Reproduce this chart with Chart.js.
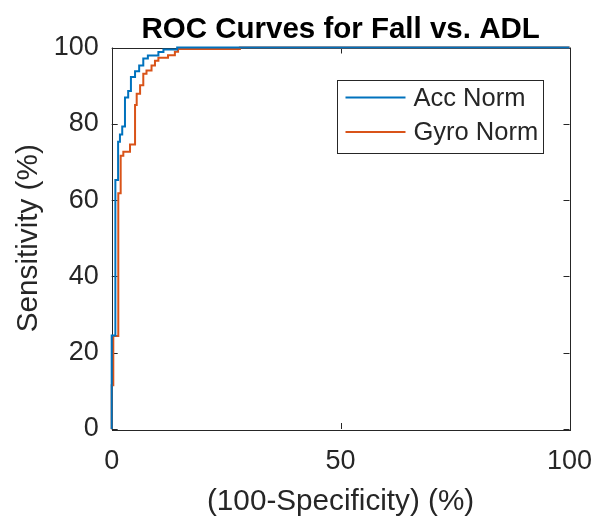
<!DOCTYPE html>
<html lang="en">
<head>
  <meta charset="UTF-8">
  <title>ROC Curves</title>
  <style>
    html, body { margin: 0; padding: 0; background: #fff; }
    #wrap { width: 597px; height: 521px; }
  </style>
</head>
<body>
  <div id="wrap"><canvas id="rocChart" width="597" height="521"></canvas></div>
  <script src="https://cdn.jsdelivr.net/npm/chart.js@4/dist/chart.umd.min.js"></script>
  <script>
    // ROC points (false positive rate %, true positive rate %) for each sensor norm
    const accFpr = [0, 0, 0.8, 0.8, 1.4, 1.4, 1.8, 1.8, 2.3, 2.3, 2.9, 2.9, 3.6, 3.6, 4.2, 4.2, 5.1, 5.1, 6.0, 6.0, 6.9, 6.9, 7.9, 7.9, 10.2, 10.2, 11.3, 11.3, 14.3, 14.3, 100];
    const accTpr = [0, 24.5, 24.5, 65.3, 65.3, 75.3, 75.3, 77.2, 77.2, 79.3, 79.3, 86.9, 86.9, 88.6, 88.6, 92.3, 92.3, 93.8, 93.8, 95.3, 95.3, 97.1, 97.1, 97.9, 97.9, 98.8, 98.8, 99.5, 99.5, 100, 100];

    const gyroFpr = [0, 0, 0.35, 0.35, 1.44, 1.44, 1.96, 1.96, 2.54, 2.54, 4.0, 4.0, 5.1, 5.1, 5.46, 5.46, 6.2, 6.2, 6.9, 6.9, 7.6, 7.6, 8.7, 8.7, 9.45, 9.45, 10.2, 10.2, 12.3, 12.3, 13.8, 13.8, 14.5, 14.5, 28, 28, 100];
    const gyroTpr = [0, 11.5, 11.5, 24.4, 24.4, 61.8, 61.8, 71.6, 71.6, 72.7, 72.7, 74.6, 74.6, 84.9, 84.9, 87.9, 87.9, 90.1, 90.1, 93.1, 93.1, 94.0, 94.0, 95.3, 95.3, 96.5, 96.5, 97.3, 97.3, 98.0, 98.0, 98.9, 98.9, 99.6, 99.6, 100, 100];

    const seriesNames = ['Acc Norm', 'Gyro Norm'];
    const seriesColors = ['#0072BD', '#D95319'];

    const xTickValues = [0, 50, 100];
    const yTickValues = [0, 20, 40, 60, 80, 100];

    const titleText = 'ROC Curves for Fall vs. ADL';

    const axisColor = '#262626';
    const fontFamily = '"Liberation Sans", Arial, Helvetica, sans-serif';

    function toPoints(xs, ys) {
      return xs.map((x, i) => ({ x: x, y: ys[i] }));
    }

    // box around the axes with short inward tick marks, drawn under the curves
    const axesBox = {
      id: 'axesBox',
      beforeDatasetsDraw(chart) {
        const { ctx, chartArea: a, scales } = chart;
        const len = 6;
        ctx.save();
        ctx.strokeStyle = axisColor;
        ctx.lineWidth = 1;
        ctx.strokeRect(Math.round(a.left) + 0.5, Math.round(a.top) + 0.5,
          Math.round(a.right - a.left), Math.round(a.bottom - a.top));
        ctx.beginPath();
        xTickValues.forEach(v => {
          const px = Math.round(scales.x.getPixelForValue(v)) + 0.5;
          ctx.moveTo(px, a.bottom); ctx.lineTo(px, a.bottom - len);
          ctx.moveTo(px, a.top); ctx.lineTo(px, a.top + len);
        });
        yTickValues.forEach(v => {
          const py = Math.round(scales.y.getPixelForValue(v)) + 0.5;
          ctx.moveTo(a.left, py); ctx.lineTo(a.left + len, py);
          ctx.moveTo(a.right, py); ctx.lineTo(a.right - len, py);
        });
        ctx.stroke();
        ctx.restore();
      }
    };

    // title centred over the plot area rather than the whole canvas
    const plotTitle = {
      id: 'plotTitle',
      afterDraw(chart) {
        const { ctx, chartArea: a } = chart;
        ctx.save();
        ctx.fillStyle = '#000';
        ctx.font = 'bold 29.5px ' + fontFamily;
        ctx.textAlign = 'center';
        ctx.textBaseline = 'middle';
        ctx.fillText(titleText, (a.left + a.right) / 2, a.top - 18);
        ctx.restore();
      }
    };

    // boxed legend in the upper right of the plot area
    const boxLegend = {
      id: 'boxLegend',
      afterDatasetsDraw(chart) {
        const { ctx, chartArea: a } = chart;
        const w = 206, h = 73;
        const left = Math.round(a.right - 27 - w) + 0.5;
        const top = Math.round(a.top + 32) + 0.5;
        ctx.save();
        ctx.fillStyle = '#fff';
        ctx.fillRect(left, top, w, h);
        ctx.strokeStyle = axisColor;
        ctx.lineWidth = 1;
        ctx.strokeRect(left, top, w, h);
        ctx.font = '25.5px ' + fontFamily;
        ctx.textBaseline = 'middle';
        chart.data.datasets.forEach((ds, i) => {
          const cy = top + 17 + i * 34.5;
          ctx.strokeStyle = ds.borderColor;
          ctx.lineWidth = 2;
          ctx.beginPath();
          ctx.moveTo(left + 8, cy);
          ctx.lineTo(left + 68, cy);
          ctx.stroke();
          ctx.fillStyle = axisColor;
          ctx.fillText(ds.label, left + 76, cy + 1);
        });
        ctx.restore();
      }
    };

    const ctx = document.getElementById('rocChart').getContext('2d');
    new Chart(ctx, {
      type: 'scatter',
      data: {
        datasets: [{
          label: seriesNames[0],
          data: toPoints(accFpr, accTpr),
          borderColor: seriesColors[0],
          backgroundColor: seriesColors[0],
          showLine: true,
          borderWidth: 2,
          pointRadius: 0,
          tension: 0
        }, {
          label: seriesNames[1],
          data: toPoints(gyroFpr, gyroTpr),
          borderColor: seriesColors[1],
          backgroundColor: seriesColors[1],
          showLine: true,
          borderWidth: 2,
          pointRadius: 0,
          tension: 0
        }]
      },
      options: {
        responsive: false,
        animation: false,
        devicePixelRatio: 1,
        clip: false,
        layout: { padding: { left: 11, right: 27.5, top: 47.5, bottom: 1 } },
        plugins: {
          legend: { display: false },
          tooltip: { enabled: false },
          title: { display: false }
        },
        scales: {
          x: {
            type: 'linear',
            min: 0,
            max: 100,
            afterBuildTicks: scale => { scale.ticks = xTickValues.map(v => ({ value: v })); },
            // fixed band under the plot; end labels may overhang the edges
            afterFit: scale => { scale.height = 91; scale.paddingLeft = 0; scale.paddingRight = 0; },
            grid: { display: false, drawTicks: false },
            border: { display: false },
            ticks: {
              color: axisColor,
              padding: 16,
              maxRotation: 0,
              font: { family: fontFamily, size: 27 }
            },
            title: {
              display: true,
              text: '(100-Specificity) (%)',
              color: axisColor,
              font: { family: fontFamily, size: 29.7 },
              padding: { top: 4, bottom: 0 }
            }
          },
          y: {
            type: 'linear',
            min: 0,
            max: 100,
            afterBuildTicks: scale => { scale.ticks = yTickValues.map(v => ({ value: v })); },
            afterFit: scale => { scale.width = 100.7; scale.paddingTop = 0; scale.paddingBottom = 0; },
            grid: { display: false, drawTicks: false },
            border: { display: false },
            ticks: {
              color: axisColor,
              padding: 13,
              font: { family: fontFamily, size: 27 }
            },
            title: {
              display: true,
              text: 'Sensitivity (%)',
              color: axisColor,
              font: { family: fontFamily, size: 29.7 },
              padding: { top: 0, bottom: 0 }
            }
          }
        }
      },
      plugins: [axesBox, boxLegend, plotTitle]
    });
  </script>
</body>
</html>
